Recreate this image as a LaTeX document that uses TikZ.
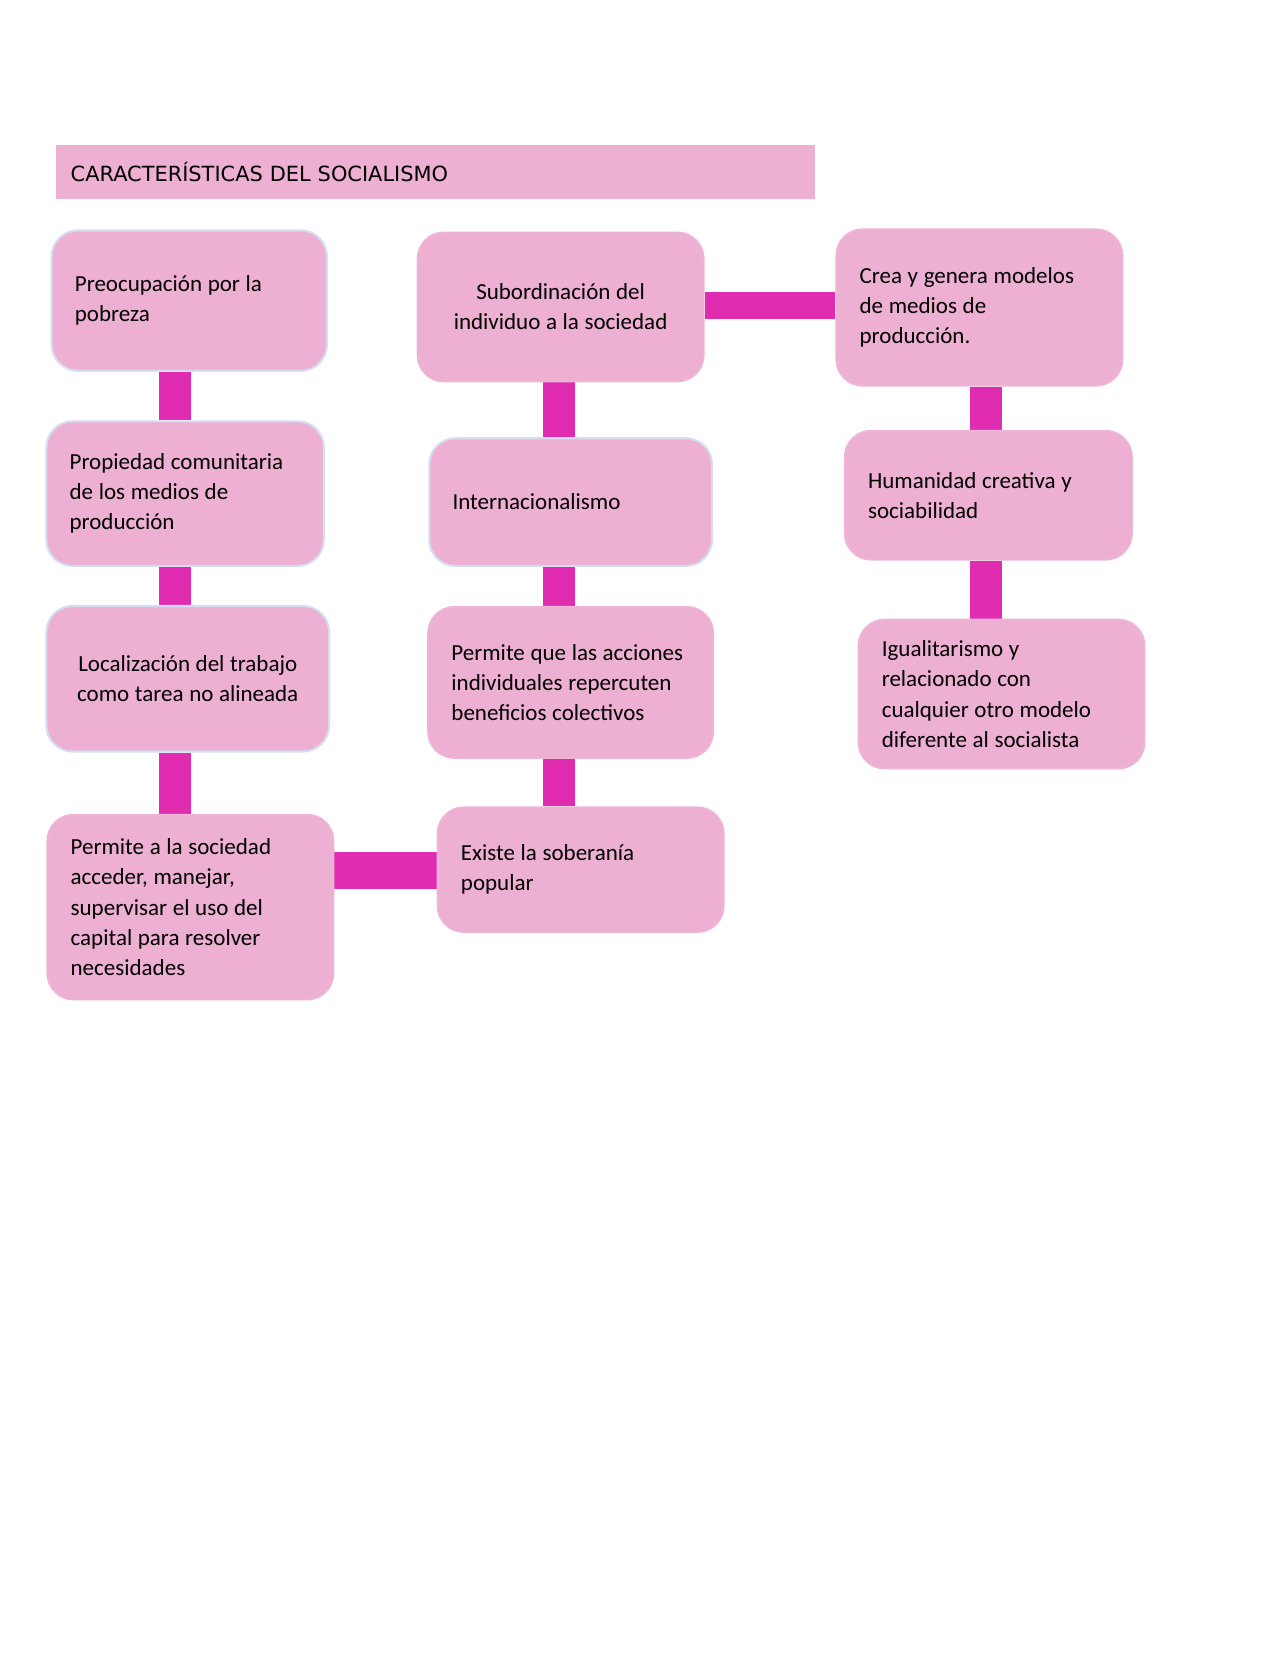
\documentclass[tikz,border=0pt]{standalone}
\usepackage{fontspec}
\setmainfont{Carlito}
\newfontfamily\titlefont{DejaVu Sans}
\usetikzlibrary{backgrounds,calc}
\definecolor{boxpink}{HTML}{EDAFD2}
\definecolor{conmag}{HTML}{DF2CB0}
\definecolor{blueedge}{HTML}{D6DDF2}
\definecolor{pinkedge}{HTML}{EEB4D5}
\newdimen\tightsp
\tightsp=2.7pt
\tikzset{
  basebox/.style={rectangle, rounded corners=12.5pt, fill=boxpink, line width=1pt,
    inner xsep=11.1pt, inner ysep=0pt, font=\fontsize{11}{14.4}\selectfont, text=black},
  bbox/.style={basebox, draw=blueedge},
  pbox/.style={basebox, draw=pinkedge},
  conn/.style={draw=conmag, line cap=butt},
}
\newcommand\mybox[8]{%
  \pgfmathsetmacro\bw{(#4-#2)*0.5045}%
  \pgfmathsetmacro\bh{(#5-#3)*0.5045}%
  \pgfmathsetmacro\tw{(#4-#2-44)*0.5045}%
  \node[#6, align=#7, minimum width=\bw pt, minimum height=\bh pt, text width=\tw pt]
    (#1) at ({(#2+#4)/2},{(#3+#5)/2+1.5}) {\spaceskip=\tightsp\relax #8};}
\begin{document}
\begin{tikzpicture}[x=0.5045pt, y=-0.5045pt]
\useasboundingbox (0,0) rectangle (1213,1570);
% title
\node[rectangle, fill=boxpink, minimum width={720*0.5045pt}, minimum height={52*0.5045pt},
  text width={692*0.5045pt}, inner xsep={14*0.5045pt}, align=left,
  font=\titlefont\fontsize{10}{12}\selectfont] (title) at (413,163) {CARACTERÍSTICAS DEL SOCIALISMO};
% column 1
\mybox{n1}{49}{217}{310}{350}{bbox}{left}{Preocupación por la\\pobreza}
\mybox{n2}{44}{398}{307}{535}{bbox}{left}{Propiedad comunitaria\\de los medios de\\producción}
\mybox{n3}{44}{573}{312}{711}{bbox}{center}{Localización del trabajo\\como tarea no alineada}
\mybox{n4}{45}{771}{316}{946}{pbox}{left}{Permite a la sociedad\\acceder, manejar,\\supervisar el uso del\\capital para resolver\\necesidades}
% column 2
\mybox{n5}{396}{219}{667}{360}{pbox}{center}{Subordinación del\\individuo a la sociedad}
\mybox{n6}{407}{414}{675}{535}{bbox}{left}{Internacionalismo}
\mybox{n7}{406}{574}{676}{717}{pbox}{left}{Permite que las acciones\\individuales repercuten\\beneficios colectivos}
\mybox{n8}{415}{764}{686}{882}{pbox}{left}{Existe la soberanía\\popular}
% column 3
\mybox{n9}{793}{216}{1064}{364}{pbox}{left}{Crea y genera modelos\\de medios de\\producción.}
\mybox{n10}{801}{407}{1073}{529}{pbox}{left}{Humanidad creativa y\\sociabilidad}
\mybox{n11}{814}{586}{1085}{727}{pbox}{left}{Igualitarismo y\\relacionado con\\cualquier otro modelo\\diferente al socialista}
% guide coordinates
\coordinate (c1) at (166,0);
\coordinate (c2) at (530,0);
\coordinate (c3) at (935,0);
\coordinate (r1) at (0,825.5);
\coordinate (r2) at (0,289.5);
\begin{scope}[on background layer]
\draw[conn, line width={30*0.5045pt}] (n1.south -| c1) -- (n2.north -| c1);
\draw[conn, line width={30*0.5045pt}] (n2.south -| c1) -- (n3.north -| c1);
\draw[conn, line width={30*0.5045pt}] (n3.south -| c1) -- (n4.north -| c1);
\draw[conn, line width={35*0.5045pt}] (n4.east |- r1) -- (n8.west |- r1);
\draw[conn, line width={30*0.5045pt}] (n5.south -| c2) -- (n6.north -| c2);
\draw[conn, line width={30*0.5045pt}] (n6.south -| c2) -- (n7.north -| c2);
\draw[conn, line width={30*0.5045pt}] (n7.south -| c2) -- (n8.north -| c2);
\draw[conn, line width={25*0.5045pt}] (n5.east |- r2) -- (n9.west |- r2);
\draw[conn, line width={30*0.5045pt}] (n9.south -| c3) -- (n10.north -| c3);
\draw[conn, line width={30*0.5045pt}] (n10.south -| c3) -- (n11.north -| c3);
\end{scope}
\end{tikzpicture}
\end{document}
